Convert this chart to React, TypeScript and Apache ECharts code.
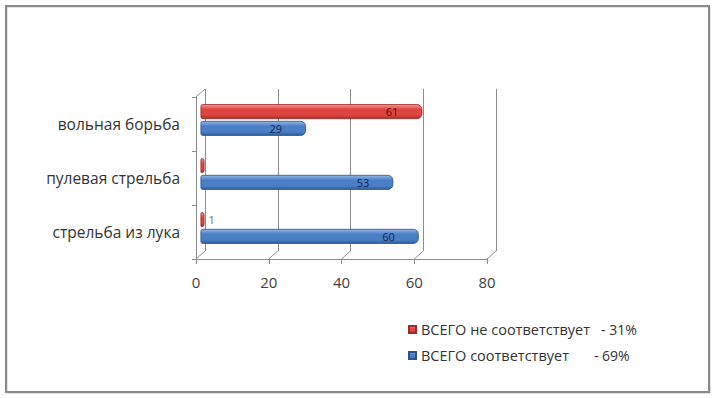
import React, { useEffect, useRef } from "react";
import * as echarts from "echarts";

// Categories run bottom-to-top on the category axis
const categories = ["стрельба из лука", "пулевая стрельба", "вольная борьба"];
const seriesNames = ["ВСЕГО не соответствует", "ВСЕГО соответствует"];
const notCompliant = [1, 0, 61];
const compliant = [60, 53, 29];
const totalShares = [31, 69];
const xTicks = [0, 20, 40, 60, 80];

const W = 716;
const H = 398;
const FONT = "Open Sans, Liberation Sans, Arial, sans-serif";
const AXIS_GRAY = "#8c8c8c";

// Front plane of the pseudo-3D plot box and its depth offset
const FRONT = { left: 196, top: 97, width: 291, height: 162 };
const DEPTH = { dx: 9, dy: -8 };

const gridAt = (k: number) => ({
  left: FRONT.left + DEPTH.dx * k,
  top: FRONT.top + DEPTH.dy * k,
  width: FRONT.width,
  height: FRONT.height,
  containLabel: false,
});

const cylinder = (top: string, mid: string, bottom: string) =>
  new echarts.graphic.LinearGradient(0, 0, 0, 1, [
    { offset: 0, color: top },
    { offset: 0.35, color: mid },
    { offset: 0.75, color: mid },
    { offset: 1, color: bottom },
  ]);

const buildBarData = (values: number[], labelColor: string) =>
  values.map((v) => {
    if (v === 0) return { value: v, label: { show: false } };
    if (v < 5)
      return {
        value: v,
        label: { show: true, position: "right", distance: 4, color: "#707070" },
      };
    return { value: v, label: { show: true, position: "insideRight", distance: 24, color: labelColor } };
  });

export default function App() {
  const ref = useRef<HTMLDivElement>(null);

  useEffect(() => {
    if (!ref.current) return;
    const chart = echarts.init(ref.current, undefined, { renderer: "svg" });

    const valueAxis = (gridIndex: number, extra: any) => ({
      type: "value",
      gridIndex,
      min: 0,
      max: 80,
      interval: 20,
      axisLine: { show: false },
      axisTick: { show: false },
      axisLabel: { show: false },
      splitLine: { show: false },
      ...extra,
    });
    const categoryAxis = (gridIndex: number, extra: any) => ({
      type: "category",
      gridIndex,
      data: categories,
      axisLine: { show: false },
      axisTick: { show: false },
      axisLabel: { show: false },
      splitLine: { show: false },
      ...extra,
    });

    chart.setOption({
      animation: false,
      backgroundColor: "#ffffff",
      grid: [gridAt(1), gridAt(0.5), gridAt(0)],
      xAxis: [
        valueAxis(0, { splitLine: { show: true, lineStyle: { color: AXIS_GRAY, width: 1 } } }),
        valueAxis(1, {}),
        valueAxis(2, {
          axisLine: { show: true, lineStyle: { color: AXIS_GRAY, width: 1 } },
          axisTick: { show: true, length: 5, lineStyle: { color: AXIS_GRAY } },
          axisLabel: { show: true, margin: 15, fontSize: 15, color: "#404040", fontFamily: FONT },
        }),
      ],
      yAxis: [
        categoryAxis(0, {}),
        categoryAxis(1, {}),
        categoryAxis(2, {
          axisLine: { show: true, lineStyle: { color: AXIS_GRAY, width: 1 } },
          axisTick: { show: true, length: 4, lineStyle: { color: AXIS_GRAY } },
          axisLabel: {
            show: true,
            margin: 16,
            fontSize: 15.5,
            color: "#333333",
            fontFamily: FONT,
            padding: [15, 0, 0, 0],
          },
        }),
      ],
      legend: {
        orient: "vertical",
        left: 403,
        top: 317,
        icon: "rect",
        itemWidth: 7,
        itemHeight: 7,
        itemGap: 11,
        data: seriesNames,
        formatter: (name: string) => {
          const i = seriesNames.indexOf(name);
          return `${name}{pct${i}|- ${totalShares[i]}%}`;
        },
        textStyle: {
          fontSize: 14.5,
          color: "#333333",
          fontFamily: FONT,
          rich: {
            pct0: { fontSize: 14, color: "#333333", fontFamily: FONT, padding: [0, 0, 0, 11] },
            pct1: { fontSize: 14, color: "#333333", fontFamily: FONT, padding: [0, 0, 0, 25] },
          },
        },
      },
      graphic: [
        {
          type: "rect",
          shape: { x: 7, y: 7, width: W - 13, height: H - 12 },
          style: { fill: "none", stroke: "#c8c8c8", lineWidth: 1 },
          silent: true,
        },
        {
          type: "rect",
          shape: { x: 6, y: 6, width: W - 13, height: H - 12 },
          style: { fill: "none", stroke: "#8a8a8a", lineWidth: 2 },
          silent: true,
        },
        {
          type: "line",
          shape: {
            x1: FRONT.left,
            y1: FRONT.top,
            x2: FRONT.left + DEPTH.dx,
            y2: FRONT.top + DEPTH.dy,
          },
          style: { stroke: AXIS_GRAY, lineWidth: 1 },
          silent: true,
        },
      ],
      series: [
        {
          name: seriesNames[0],
          type: "bar",
          xAxisIndex: 1,
          yAxisIndex: 1,
          barWidth: 15,
          barGap: "12%",
          barMinHeight: 4,
          itemStyle: {
            color: cylinder("#f49491", "#de4440", "#a62f2c"),
            borderColor: "#9b2c29",
            borderWidth: 0.8,
            borderRadius: [2, 5, 5, 2],
          },
          label: { fontSize: 11, fontFamily: FONT },
          data: buildBarData(notCompliant, "#4a1414"),
        },
        {
          name: seriesNames[1],
          type: "bar",
          xAxisIndex: 1,
          yAxisIndex: 1,
          barWidth: 15,
          barMinHeight: 4,
          itemStyle: {
            color: cylinder("#94b5e3", "#4a7ec6", "#2d5a95"),
            borderColor: "#2b5388",
            borderWidth: 0.8,
            borderRadius: [2, 5, 5, 2],
          },
          label: { fontSize: 11, fontFamily: FONT },
          data: buildBarData(compliant, "#14264a"),
        },
        {
          // floor lines joining front ticks to back gridlines
          type: "custom",
          xAxisIndex: 2,
          yAxisIndex: 2,
          silent: true,
          encode: { x: 0, y: 1 },
          data: xTicks.map((v) => [v, 0]),
          renderItem: (params: any, api: any) => {
            const cs = params.coordSys;
            const x = api.coord([api.value(0), 0])[0];
            const y = cs.y + cs.height;
            return {
              type: "line",
              shape: { x1: x, y1: y, x2: x + DEPTH.dx, y2: y + DEPTH.dy },
              style: { stroke: AXIS_GRAY, lineWidth: 1 },
            };
          },
        },
      ],
    });

    return () => chart.dispose();
  }, []);

  return (
    <div
      ref={ref}
      style={{ position: "absolute", left: 0, top: 0, width: W, height: H, background: "#ffffff" }}
    />
  );
}
